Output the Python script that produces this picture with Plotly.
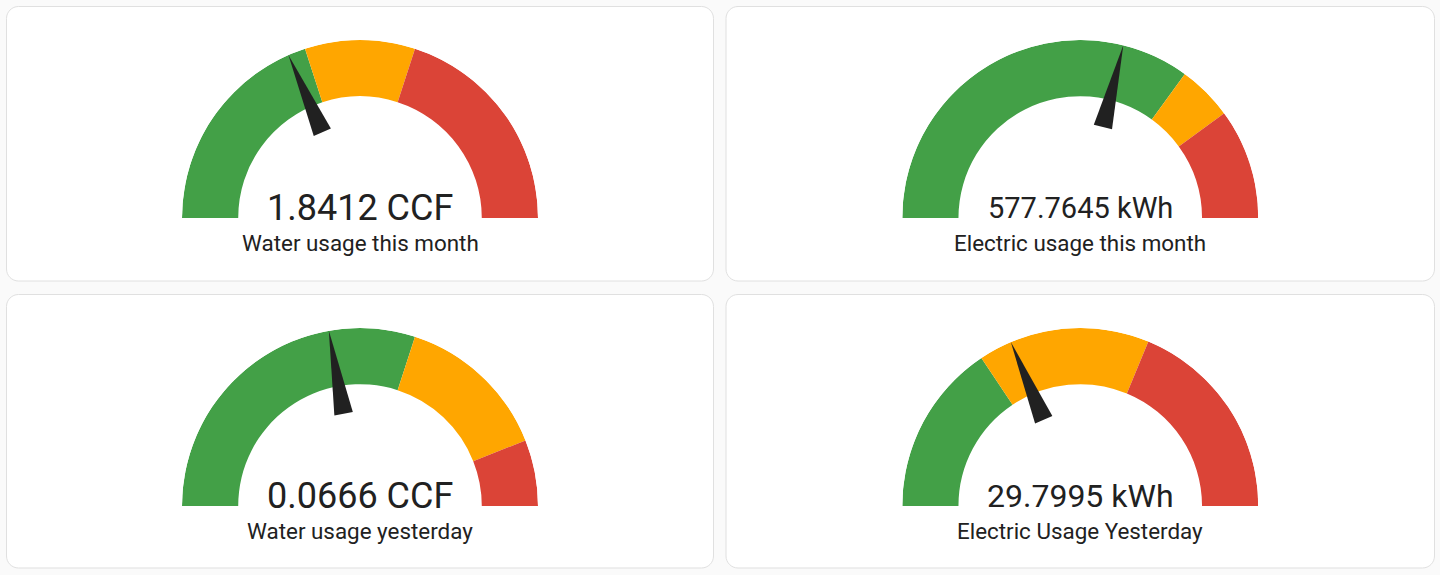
import math
import plotly.graph_objects as go

# ---------------- data ----------------
names = ["Water usage this month", "Electric usage this month",
         "Water usage yesterday", "Electric Usage Yesterday"]
values = [1.8412, 577.7645, 0.0666, 29.7995]
units = ["CCF", "kWh", "CCF", "kWh"]
mins = [0, 0, 0, 0]
maxs = [5, 1000, 0.15, 80]
green_to = [2, 700, 0.09, 25]
yellow_to = [3, 800, 0.132, 50]

# ---------------- style / layout ----------------
W, H = 1440, 575
BG = "#fafafa"
CARD_BORDER = "#e0e0e0"
TXT = "#212121"
GREEN, YELLOW, RED = "#43a047", "#ffa600", "#db4437"
NEEDLE = "#212121"
value_font = [36, 29, 36, 32]
title_font = 22.4
FONT = "Roboto"

card_x = [(6.5, 713.5), (726.0, 1434.5)]
card_y = [(6.5, 281.0), (294.5, 568.0)]
CARD_R = 12
R_PX = 178          # outer radius in px
GAUGE_BOTTOM = 211.5  # from card top
VALUE_CY = 201      # from card top
TITLE_CY = 236.2    # from card top

# gauge geometry in gauge units (outer 47.5, width 15, needle 25..47.5)
R_OUT, R_W = 47.5, 15.0
N_IN, N_HALF = 25.0, 2.5


def px(x):
    return x / W


def py(y):
    return 1 - y / H


def rounded_rect(x0, y0, x1, y1, r):
    k = 0.5523 * r
    pts = []
    P = lambda x, y: f"{px(x):.6f},{py(y):.6f}"
    pts.append(f"M {P(x0 + r, y0)}")
    pts.append(f"L {P(x1 - r, y0)}")
    pts.append(f"C {P(x1 - r + k, y0)} {P(x1, y0 + r - k)} {P(x1, y0 + r)}")
    pts.append(f"L {P(x1, y1 - r)}")
    pts.append(f"C {P(x1, y1 - r + k)} {P(x1 - r + k, y1)} {P(x1 - r, y1)}")
    pts.append(f"L {P(x0 + r, y1)}")
    pts.append(f"C {P(x0 + r - k, y1)} {P(x0, y1 - r + k)} {P(x0, y1 - r)}")
    pts.append(f"L {P(x0, y0 + r)}")
    pts.append(f"C {P(x0, y0 + r - k)} {P(x0 + r - k, y0)} {P(x0 + r, y0)}")
    pts.append("Z")
    return " ".join(pts)


fig = go.Figure()
shapes = []
annotations = []
layout_polars = {}

for i in range(4):
    row, col = divmod(i, 2)
    cx0, cx1 = card_x[col]
    cy0, cy1 = card_y[row]
    shapes.append(dict(type="path", path=rounded_rect(cx0, cy0, cx1, cy1, CARD_R),
                       xref="paper", yref="paper", fillcolor="white",
                       line=dict(color=CARD_BORDER, width=1), layer="below"))
    ccx = (cx0 + cx1) / 2
    bottom = cy0 + GAUGE_BOTTOM
    dom_x = [px(ccx - R_PX), px(ccx + R_PX)]
    dom_y = [py(bottom), py(bottom - R_PX)]
    pname = "polar" if i == 0 else f"polar{i + 1}"
    sub = "polar" if i == 0 else f"polar{i + 1}"
    layout_polars[pname] = dict(
        domain=dict(x=dom_x, y=dom_y),
        sector=[0, 180],
        hole=0,
        bgcolor="rgba(0,0,0,0)",
        bargap=0,
        radialaxis=dict(visible=False, range=[0, R_OUT], showgrid=False),
        angularaxis=dict(visible=False, rotation=180, direction="clockwise",
                         showgrid=False, thetaunit="degrees"),
    )

    span = maxs[i] - mins[i]
    to_deg = lambda v: (min(max(v, mins[i]), maxs[i]) - mins[i]) / span * 180.0
    bounds = [mins[i], green_to[i], yellow_to[i], maxs[i]]
    cols = [GREEN, YELLOW, RED]
    thetas, widths = [], []
    for a, b in zip(bounds[:-1], bounds[1:]):
        ta, tb = to_deg(a), to_deg(b)
        thetas.append((ta + tb) / 2)
        widths.append(tb - ta)
    fig.add_trace(go.Barpolar(
        theta=thetas, width=widths, r=[R_W] * 3, base=[R_OUT - R_W] * 3,
        marker=dict(color=cols, line=dict(width=0)),
        subplot=sub, hoverinfo="skip", showlegend=False))

    a = to_deg(values[i])
    da = math.degrees(math.atan2(N_HALF, N_IN))
    rb = math.hypot(N_IN, N_HALF)
    fig.add_trace(go.Scatterpolar(
        r=[rb, R_OUT, rb, rb], theta=[a - da, a, a + da, a - da],
        mode="lines", fill="toself", fillcolor=NEEDLE,
        line=dict(width=0, color=NEEDLE),
        subplot=sub, hoverinfo="skip", showlegend=False))

    annotations.append(dict(
        x=px(ccx), y=py(cy0 + VALUE_CY), xref="paper", yref="paper",
        xanchor="center", yanchor="middle", showarrow=False,
        text=f"{values[i]:.4f} {units[i]}",
        font=dict(family=FONT, size=value_font[i], color=TXT)))
    annotations.append(dict(
        x=px(ccx), y=py(cy0 + TITLE_CY), xref="paper", yref="paper",
        xanchor="center", yanchor="middle", showarrow=False,
        text=names[i],
        font=dict(family=FONT, size=title_font, color=TXT)))

fig.update_layout(
    width=W, height=H,
    margin=dict(l=0, r=0, t=0, b=0),
    paper_bgcolor=BG, plot_bgcolor=BG,
    shapes=shapes, annotations=annotations,
    showlegend=False,
    font=dict(family=FONT, color=TXT),
    **layout_polars,
)

fig.write_html("out.html", config={"displayModeBar": False})
